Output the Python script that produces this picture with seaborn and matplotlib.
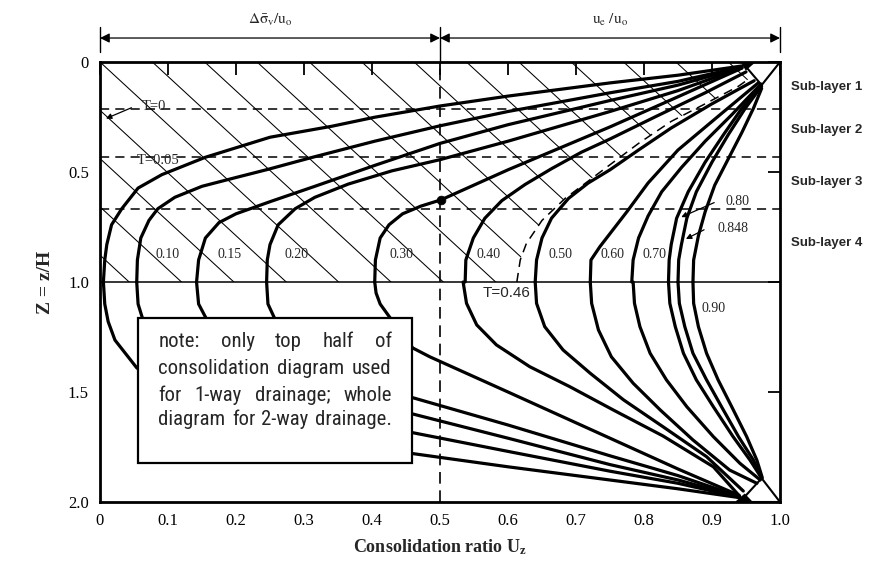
import numpy as np
import pandas as pd
import matplotlib
matplotlib.use("Agg")
import matplotlib.pyplot as plt
import seaborn as sns
from matplotlib import font_manager
from matplotlib.patches import Polygon, Rectangle

# ---------------- data ----------------
# upper half isochrones (U, Z), from Z = 1 up to the drained top
t005_up_u = [0.005, 0.007, 0.010, 0.017, 0.032, 0.056, 0.091, 0.155, 0.25, 0.341, 0.404, 0.5, 0.6, 0.75, 0.85, 0.944]
t005_up_z = [1.0, 0.9, 0.83, 0.74, 0.667, 0.573, 0.512, 0.433, 0.342, 0.292, 0.251, 0.20, 0.155, 0.095, 0.06, 0.018]
t010_up_u = [0.054, 0.055, 0.060, 0.072, 0.085, 0.11, 0.15, 0.20, 0.247, 0.309, 0.404, 0.5, 0.6, 0.75, 0.85, 0.944]
t010_up_z = [1.0, 0.9, 0.80, 0.72, 0.667, 0.615, 0.565, 0.525, 0.488, 0.436, 0.36, 0.29, 0.225, 0.14, 0.088, 0.022]
t015_up_u = [0.142, 0.145, 0.155, 0.175, 0.20, 0.25, 0.316, 0.404, 0.5, 0.6, 0.75, 0.85, 0.944]
t015_up_z = [1.0, 0.9, 0.80, 0.73, 0.69, 0.635, 0.565, 0.47, 0.37, 0.285, 0.175, 0.105, 0.024]
t020_up_u = [0.245, 0.246, 0.25, 0.262, 0.287, 0.316, 0.365, 0.429, 0.5, 0.6, 0.75, 0.85, 0.944]
t020_up_z = [1.0, 0.9, 0.83, 0.74, 0.667, 0.615, 0.555, 0.495, 0.444, 0.36, 0.225, 0.13, 0.026]
t030_up_u = [0.404, 0.405, 0.412, 0.425, 0.445, 0.472, 0.502, 0.6, 0.75, 0.85, 0.944]
t030_up_z = [1.0, 0.9, 0.80, 0.74, 0.69, 0.655, 0.626, 0.49, 0.295, 0.158, 0.028]
t040_up_u = [0.537, 0.538, 0.549, 0.566, 0.591, 0.625, 0.664, 0.708, 0.75, 0.816, 0.89, 0.95]
t040_up_z = [1.0, 0.9, 0.80, 0.71, 0.63, 0.557, 0.485, 0.41, 0.35, 0.25, 0.14, 0.045]
t046_up_u = [0.613, 0.618, 0.627, 0.65, 0.684, 0.75, 0.792, 0.84, 0.89, 0.939, 0.955]
t046_up_z = [1.0, 0.9, 0.825, 0.72, 0.62, 0.467, 0.37, 0.27, 0.19, 0.11, 0.075]
t050_up_u = [0.64, 0.642, 0.65, 0.664, 0.689, 0.718, 0.75, 0.792, 0.84, 0.9, 0.962]
t050_up_z = [1.0, 0.9, 0.80, 0.71, 0.62, 0.55, 0.49, 0.40, 0.30, 0.19, 0.085]
t060_up_u = [0.721, 0.722, 0.735, 0.75, 0.775, 0.806, 0.85, 0.904, 0.968]
t060_up_z = [1.0, 0.9, 0.84, 0.78, 0.68, 0.55, 0.40, 0.26, 0.095]
t070_up_u = [0.782, 0.784, 0.792, 0.806, 0.826, 0.855, 0.89, 0.929, 0.972]
t070_up_z = [1.0, 0.9, 0.80, 0.70, 0.59, 0.48, 0.36, 0.24, 0.10]
t080_up_u = [0.836, 0.837, 0.840, 0.848, 0.865, 0.89, 0.917, 0.944, 0.972]
t080_up_z = [1.0, 0.9, 0.83, 0.71, 0.59, 0.455, 0.33, 0.21, 0.11]
t0848_up_u = [0.850, 0.851, 0.855, 0.863, 0.877, 0.9, 0.924, 0.949, 0.973]
t0848_up_z = [1.0, 0.9, 0.83, 0.71, 0.59, 0.455, 0.33, 0.21, 0.11]
t090_up_u = [0.872, 0.873, 0.88, 0.89, 0.904, 0.924, 0.944, 0.961, 0.973]
t090_up_z = [1.0, 0.9, 0.79, 0.68, 0.56, 0.44, 0.32, 0.21, 0.12]

# lower half isochrones (U, Z), from Z = 1 down to the drained bottom
t005_lo_u = [0.005, 0.007, 0.012, 0.022, 0.054, 0.10, 0.155, 0.25, 0.34, 0.46, 0.6, 0.75, 0.85, 0.94]
t005_lo_z = [1.0, 1.1, 1.18, 1.264, 1.39, 1.49, 1.567, 1.655, 1.71, 1.78, 1.84, 1.90, 1.94, 1.98]
t010_lo_u = [0.054, 0.056, 0.066, 0.10, 0.15, 0.25, 0.35, 0.46, 0.6, 0.75, 0.85, 0.94]
t010_lo_z = [1.0, 1.1, 1.2, 1.33, 1.43, 1.52, 1.6, 1.685, 1.77, 1.86, 1.915, 1.978]
t015_lo_u = [0.142, 0.145, 0.162, 0.2, 0.25, 0.35, 0.46, 0.6, 0.75, 0.85, 0.94]
t015_lo_z = [1.0, 1.1, 1.2, 1.3, 1.37, 1.47, 1.60, 1.71, 1.83, 1.90, 1.976]
t020_lo_u = [0.245, 0.247, 0.262, 0.29, 0.33, 0.40, 0.46, 0.6, 0.75, 0.85, 0.94]
t020_lo_z = [1.0, 1.1, 1.2, 1.3, 1.37, 1.45, 1.526, 1.65, 1.79, 1.88, 1.975]
t030_lo_u = [0.404, 0.406, 0.412, 0.426, 0.445, 0.46, 0.485, 0.6, 0.75, 0.85, 0.94]
t030_lo_z = [1.0, 1.05, 1.1, 1.16, 1.24, 1.30, 1.34, 1.50, 1.71, 1.85, 1.97]
t040_lo_u = [0.534, 0.539, 0.554, 0.583, 0.632, 0.691, 0.755, 0.828, 0.902, 0.941]
t040_lo_z = [1.0, 1.097, 1.195, 1.286, 1.385, 1.476, 1.582, 1.70, 1.84, 1.975]
t050_lo_u = [0.64, 0.642, 0.654, 0.681, 0.721, 0.77, 0.828, 0.892, 0.946]
t050_lo_z = [1.0, 1.097, 1.203, 1.309, 1.415, 1.536, 1.658, 1.794, 1.95]
t060_lo_u = [0.721, 0.723, 0.733, 0.752, 0.784, 0.824, 0.872, 0.926, 0.966]
t060_lo_z = [1.0, 1.097, 1.218, 1.34, 1.46, 1.582, 1.718, 1.855, 1.915]
t070_lo_u = [0.784, 0.786, 0.794, 0.809, 0.833, 0.863, 0.902, 0.941, 0.971]
t070_lo_z = [1.0, 1.097, 1.203, 1.324, 1.445, 1.567, 1.703, 1.824, 1.90]
t080_lo_u = [0.836, 0.838, 0.846, 0.858, 0.877, 0.902, 0.931, 0.956, 0.973]
t080_lo_z = [1.0, 1.097, 1.203, 1.324, 1.445, 1.567, 1.703, 1.81, 1.892]
t0848_lo_u = [0.850, 0.852, 0.86, 0.872, 0.892, 0.914, 0.939, 0.961, 0.973]
t0848_lo_z = [1.0, 1.097, 1.203, 1.324, 1.445, 1.567, 1.703, 1.81, 1.892]
t090_lo_u = [0.872, 0.873, 0.88, 0.892, 0.909, 0.929, 0.951, 0.966, 0.974]
t090_lo_z = [1.0, 1.097, 1.203, 1.324, 1.445, 1.567, 1.703, 1.81, 1.89]

# point marked on the T = 0.30 isochrone
dot_u = [0.502]
dot_z = [0.626]

# drainage-boundary triangles
tri_top_u = [0.944, 1.0, 0.973]
tri_top_z = [0.0, 0.0, 0.105]
tri_bot_u = [0.941, 1.0, 0.973]
tri_bot_z = [2.0, 2.0, 1.892]
wedge_top_u = [0.944, 0.962, 0.95]
wedge_top_z = [0.0, 0.0, 0.032]
wedge_bot_u = [0.936, 0.958, 0.948]
wedge_bot_z = [2.0, 2.0, 1.968]

# sub-layer boundaries
sublayer_z = [0.212, 0.433, 0.667]
sublayer_names = ["Sub-layer 1", "Sub-layer 2", "Sub-layer 3", "Sub-layer 4"]
sublayer_label_z = [0.112, 0.309, 0.544, 0.824]

# isochrone labels
curve_label_text = ["0.10", "0.15", "0.20", "0.30", "0.40", "0.50", "0.60", "0.70", "0.90"]
curve_label_u = [0.100, 0.190, 0.289, 0.443, 0.572, 0.677, 0.754, 0.816, 0.902]
curve_label_z = [0.873, 0.873, 0.873, 0.873, 0.873, 0.873, 0.873, 0.873, 1.12]

# ticks
x_ticks = [0, 0.1, 0.2, 0.3, 0.4, 0.5, 0.6, 0.7, 0.8, 0.9, 1.0]
x_tick_labels = ["0", "0.1", "0.2", "0.3", "0.4", "0.5", "0.6", "0.7", "0.8", "0.9", "1.0"]
y_ticks = [0, 0.5, 1.0, 1.5, 2.0]
y_tick_labels = ["0", "0.5", "1.0", "1.5", "2.0"]

note_lines = [
    ["note:", "only", "top", "half", "of"],
    ["consolidation", "diagram", "used"],
    ["for", "1-way", "drainage;", "whole"],
    ["diagram", "for", "2-way", "drainage."],
]

# ---------------- styling ----------------
sns.set_theme(style="white")
plt.rcParams["font.family"] = ["Liberation Serif", "DejaVu Serif"]
plt.rcParams["mathtext.fontset"] = "stix"

# a condensed sans for the note, if one is installed
ttf = font_manager.fontManager.ttflist
names = {f.name for f in ttf}
note_kw = dict(family=["Liberation Sans", "DejaVu Sans"])
if "Liberation Sans Narrow" in names:
    note_kw = dict(family=["Liberation Sans Narrow", "DejaVu Sans"])
elif "Roboto Condensed" in names:
    note_kw = dict(family=["Roboto Condensed", "DejaVu Sans"])
elif any(f.name == "DejaVu Sans" and "ondensed" in str(f.stretch) for f in ttf):
    note_kw = dict(family=["DejaVu Sans"], fontstretch="condensed")

fig = plt.figure(figsize=(8.75, 5.63), dpi=100)
ax = fig.add_axes([100 / 875, 61 / 563, 680 / 875, 440 / 563])
ax.set_xlim(0, 1.0)
ax.set_ylim(2.0, 0)

K = "black"

# hatched region (between T=0 and the dashed T=0.46 isochrone)
clip_pts = [(0.0, 0.0), (0.0, 1.0)] + list(zip(t046_up_u, t046_up_z)) + [(t046_up_u[-1], 0.0)]
clip_poly = Polygon(clip_pts, closed=True, facecolor="none", edgecolor="none", transform=ax.transData)
ax.add_patch(clip_poly)
hatch_slope = 2.85
hatch_step = 0.077
for k in range(-14, 14):
    c = k * hatch_step
    uu = np.array([-0.5, 1.5])
    ln, = ax.plot(uu, hatch_slope * (uu - c), color=K, lw=0.75, zorder=2)
    ln.set_clip_path(clip_poly)

# isochrones
solid_curves = [
    (t005_up_u, t005_up_z), (t010_up_u, t010_up_z), (t015_up_u, t015_up_z),
    (t020_up_u, t020_up_z), (t030_up_u, t030_up_z), (t040_up_u, t040_up_z),
    (t050_up_u, t050_up_z), (t060_up_u, t060_up_z), (t070_up_u, t070_up_z),
    (t080_up_u, t080_up_z), (t0848_up_u, t0848_up_z), (t090_up_u, t090_up_z),
    (t005_lo_u, t005_lo_z), (t010_lo_u, t010_lo_z), (t015_lo_u, t015_lo_z),
    (t020_lo_u, t020_lo_z), (t030_lo_u, t030_lo_z), (t040_lo_u, t040_lo_z),
    (t050_lo_u, t050_lo_z), (t060_lo_u, t060_lo_z), (t070_lo_u, t070_lo_z),
    (t080_lo_u, t080_lo_z), (t0848_lo_u, t0848_lo_z), (t090_lo_u, t090_lo_z),
]
for uu, zz in solid_curves:
    sns.lineplot(x=uu, y=zz, sort=False, estimator=None, color=K, lw=2.3, ax=ax,
                 zorder=3, solid_capstyle="round", solid_joinstyle="round")
sns.lineplot(x=t046_up_u, y=t046_up_z, sort=False, estimator=None, color=K, lw=1.1,
             ax=ax, zorder=3, linestyle=(0, (6, 4)))
sns.scatterplot(x=dot_u, y=dot_z, color=K, s=40, ax=ax, zorder=4, edgecolor=K)

# triangles at the drained boundaries
for tu, tz, fill in [(tri_top_u, tri_top_z, False), (tri_bot_u, tri_bot_z, False),
                     (wedge_top_u, wedge_top_z, True), (wedge_bot_u, wedge_bot_z, True)]:
    ax.add_patch(Polygon(list(zip(tu, tz)), closed=True, fill=fill, facecolor=K,
                         edgecolor=K, lw=1.5, zorder=4))

# sub-layer dashed boundaries, mid-depth line, U=0.5 dashed line
for zb in sublayer_z:
    ax.axhline(zb, color=K, lw=1.1, linestyle=(0, (6, 4)), zorder=2.5)
ax.axhline(1.0, color=K, lw=1.1, zorder=2.5)
ax.axvline(0.5, color=K, lw=1.2, linestyle=(0, (7, 4)), zorder=2.5)

# labels on curves
for t, u, z in zip(curve_label_text, curve_label_u, curve_label_z):
    ax.text(u, z, t, ha="center", va="center", fontsize=10, zorder=6)
ax.text(0.061, 0.20, "T=0", ha="left", va="center", fontsize=10.5, zorder=6)
ax.annotate("", xy=(0.005, 0.262), xytext=(0.05, 0.203),
            arrowprops=dict(arrowstyle="-|>", color=K, lw=0.9, mutation_scale=8), zorder=6)
ax.text(0.054, 0.45, "T=0.05", ha="left", va="center", fontsize=10.5, zorder=6)
ax.text(0.598, 1.05, "T=0.46", ha="center", va="center", fontsize=11,
        family=["Liberation Sans", "DejaVu Sans"], zorder=6)
ax.text(0.938, 0.633, "0.80", ha="center", va="center", fontsize=10, zorder=6)
ax.annotate("", xy=(0.851, 0.71), xytext=(0.907, 0.634),
            arrowprops=dict(arrowstyle="-|>", color=K, lw=0.9, mutation_scale=8), zorder=6)
ax.text(0.931, 0.755, "0.848", ha="center", va="center", fontsize=10, zorder=6)
ax.annotate("", xy=(0.858, 0.81), xytext=(0.892, 0.757),
            arrowprops=dict(arrowstyle="-|>", color=K, lw=0.9, mutation_scale=8), zorder=6)

# sub-layer names to the right
for name, z in zip(sublayer_names, sublayer_label_z):
    ax.text(1.016, z, name, ha="left", va="center", fontsize=9.5, fontweight="bold",
            family=["Liberation Sans", "DejaVu Sans"], clip_on=False)

# dimension arrows above the chart
dim_z = -0.109
for x0, x1 in [(0.0, 0.5), (0.5, 1.0)]:
    ax.annotate("", xy=(x1, dim_z), xytext=(x0, dim_z), annotation_clip=False,
                arrowprops=dict(arrowstyle="<|-|>", color=K, lw=0.9,
                                mutation_scale=14, shrinkA=0, shrinkB=0))
for xv, z1 in [(0.0, -0.045), (0.5, 0.0), (1.0, -0.045)]:
    ax.plot([xv, xv], [-0.16, z1], color=K, lw=1.0, clip_on=False)
ax.text(0.25, -0.19, r"$\mathrm{\Delta\bar{\sigma}_v/u_o}$", ha="center", va="center", fontsize=11)
ax.text(0.75, -0.19, r"$\mathrm{u_e\ /u_o}$", ha="center", va="center", fontsize=11)

# note box
ax.add_patch(Rectangle((0.0555, 1.162), 0.4035, 0.659, facecolor="white",
                       edgecolor=K, lw=1.6, zorder=5))
fig.canvas.draw()
renderer = fig.canvas.get_renderer()
note_x0, note_x1 = 0.086, 0.429
note_z = [1.271, 1.392, 1.514, 1.627]
X0 = ax.transData.transform((note_x0, 0))[0]
X1 = ax.transData.transform((note_x1, 0))[0]
# size the font so the (natural) last line spans ~98% of the text block
probe = ax.text(0, 0, " ".join(note_lines[-1]), fontsize=12, **note_kw)
natural = probe.get_window_extent(renderer).width
probe.remove()
note_size = 12 * 0.98 * (X1 - X0) / natural
for words, z in zip(note_lines, note_z):
    txts = [ax.text(0, z, w, ha="left", va="center", zorder=6, fontsize=note_size, **note_kw)
            for w in words]
    widths = [t.get_window_extent(renderer).width for t in txts]
    gap = (X1 - X0 - sum(widths)) / (len(words) - 1)
    pos = X0
    for t, w in zip(txts, widths):
        t.set_x(ax.transData.inverted().transform((pos, 0))[0])
        pos += w + gap

# axes, ticks, labels
for s in ax.spines.values():
    s.set_linewidth(2.0)
    s.set_color(K)
    s.set_zorder(7)
ax.set_xticks(x_ticks)
ax.set_xticklabels(x_tick_labels)
ax.set_yticks(y_ticks)
ax.set_yticklabels(y_tick_labels)
ax.tick_params(direction="in", top=True, right=True, length=9, width=1.3,
               labelsize=12, pad=8, colors=K)
ax.set_xlabel(r"Consolidation ratio U$_{\mathregular{z}}$", fontsize=13, fontweight="bold",
              labelpad=6)
ax.set_ylabel("Z = z/H", fontsize=14, fontweight="bold", labelpad=10)
ax.grid(False)

fig.savefig("out.png", dpi=100)
